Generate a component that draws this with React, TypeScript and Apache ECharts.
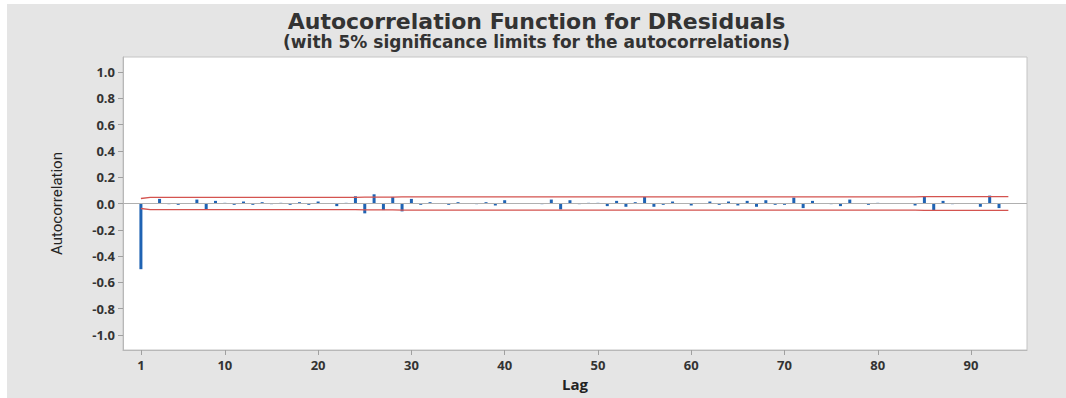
import React, { useEffect, useRef } from "react";
import * as echarts from "echarts";

const titleText = "Autocorrelation Function for DResiduals";
const subtitleText = "(with 5% significance limits for the autocorrelations)";

const lags = [
  1, 2, 3, 4, 5, 6, 7, 8, 9, 10, 11, 12, 13, 14, 15, 16, 17, 18, 19, 20,
  21, 22, 23, 24, 25, 26, 27, 28, 29, 30, 31, 32, 33, 34, 35, 36, 37, 38, 39, 40,
  41, 42, 43, 44, 45, 46, 47, 48, 49, 50, 51, 52, 53, 54, 55, 56, 57, 58, 59, 60,
  61, 62, 63, 64, 65, 66, 67, 68, 69, 70, 71, 72, 73, 74, 75, 76, 77, 78, 79, 80,
  81, 82, 83, 84, 85, 86, 87, 88, 89, 90, 91, 92, 93,
];

const acf = [
  -0.5, 0.0, 0.035, -0.005, -0.01, 0.0, 0.03, -0.045, 0.02, 0.005,
  -0.01, 0.015, -0.01, 0.01, -0.005, 0.005, -0.01, 0.01, -0.01, 0.015,
  0.0, -0.02, 0.005, 0.055, -0.075, 0.07, -0.05, 0.05, -0.06, 0.035,
  -0.01, 0.01, 0.003, -0.01, 0.01, 0.0, -0.005, 0.01, -0.015, 0.025,
  0.0, 0.002, 0.0, -0.005, 0.03, -0.045, 0.025, -0.005, 0.005, 0.005,
  -0.02, 0.02, -0.025, 0.01, 0.05, -0.025, -0.01, 0.015, 0.004, -0.015,
  0.004, 0.015, -0.01, 0.015, -0.015, 0.02, -0.025, 0.025, -0.01, -0.01,
  0.045, -0.035, 0.02, 0.0, -0.005, -0.02, 0.03, 0.004, -0.01, 0.005,
  0.0, 0.002, 0.0, -0.015, 0.055, -0.05, 0.02, -0.005, 0.0, 0.0,
  -0.025, 0.06, -0.035,
];

const limitLags = [
  1, 2, 3, 4, 5, 6, 7, 8, 9, 10, 11, 12, 13, 14, 15, 16, 17, 18, 19, 20,
  21, 22, 23, 24, 25, 26, 27, 28, 29, 30, 31, 32, 33, 34, 35, 36, 37, 38, 39, 40,
  41, 42, 43, 44, 45, 46, 47, 48, 49, 50, 51, 52, 53, 54, 55, 56, 57, 58, 59, 60,
  61, 62, 63, 64, 65, 66, 67, 68, 69, 70, 71, 72, 73, 74, 75, 76, 77, 78, 79, 80,
  81, 82, 83, 84, 85, 86, 87, 88, 89, 90, 91, 92, 93, 94,
];

const upperLimit = [
  0.038, 0.047, 0.047, 0.047, 0.047, 0.047, 0.047, 0.047, 0.047, 0.047,
  0.047, 0.047, 0.047, 0.047, 0.047, 0.047, 0.047, 0.047, 0.047, 0.047,
  0.047, 0.047, 0.047, 0.047, 0.048, 0.048, 0.049, 0.049, 0.05, 0.05,
  0.05, 0.05, 0.05, 0.05, 0.05, 0.05, 0.05, 0.05, 0.05, 0.05,
  0.05, 0.05, 0.05, 0.05, 0.05, 0.05, 0.05, 0.05, 0.05, 0.05,
  0.05, 0.05, 0.05, 0.05, 0.051, 0.051, 0.051, 0.051, 0.051, 0.051,
  0.051, 0.051, 0.051, 0.051, 0.051, 0.051, 0.051, 0.051, 0.051, 0.051,
  0.051, 0.051, 0.051, 0.051, 0.051, 0.051, 0.051, 0.051, 0.051, 0.051,
  0.051, 0.051, 0.051, 0.051, 0.052, 0.052, 0.052, 0.052, 0.052, 0.052,
  0.052, 0.052, 0.052, 0.052,
];

const lowerLimit = [
  -0.038, -0.047, -0.047, -0.047, -0.047, -0.047, -0.047, -0.047, -0.047, -0.047,
  -0.047, -0.047, -0.047, -0.047, -0.047, -0.047, -0.047, -0.047, -0.047, -0.047,
  -0.047, -0.047, -0.047, -0.047, -0.048, -0.048, -0.049, -0.049, -0.05, -0.05,
  -0.05, -0.05, -0.05, -0.05, -0.05, -0.05, -0.05, -0.05, -0.05, -0.05,
  -0.05, -0.05, -0.05, -0.05, -0.05, -0.05, -0.05, -0.05, -0.05, -0.05,
  -0.05, -0.05, -0.05, -0.05, -0.051, -0.051, -0.051, -0.051, -0.051, -0.051,
  -0.051, -0.051, -0.051, -0.051, -0.051, -0.051, -0.051, -0.051, -0.051, -0.051,
  -0.051, -0.051, -0.051, -0.051, -0.051, -0.051, -0.051, -0.051, -0.051, -0.051,
  -0.051, -0.051, -0.051, -0.051, -0.052, -0.052, -0.052, -0.052, -0.052, -0.052,
  -0.052, -0.052, -0.052, -0.052,
];

const xTicks = [1, 10, 20, 30, 40, 50, 60, 70, 80, 90];
const yTicks = [-1.0, -0.8, -0.6, -0.4, -0.2, 0.0, 0.2, 0.4, 0.6, 0.8, 1.0];

const FONT = "'Open Sans', 'Noto Sans', sans-serif";
const WIDE = "'DejaVu Sans', 'Open Sans', sans-serif";

export default function App() {
  const ref = useRef<HTMLDivElement>(null);

  useEffect(() => {
    if (!ref.current) return;
    const chart = echarts.init(ref.current, undefined, { renderer: "svg" });
    const labelStyle = {
      color: "#333",
      fontWeight: "bold" as const,
      fontSize: 13,
      fontFamily: FONT,
    };
    chart.setOption({
      animation: false,
      backgroundColor: "#e5e5e5",
      title: {
        text: titleText,
        subtext: subtitleText,
        left: "center",
        top: 1,
        itemGap: 1,
        textStyle: {
          fontFamily: WIDE,
          fontSize: 22,
          fontWeight: "bold",
          color: "#333",
        },
        subtextStyle: {
          fontFamily: WIDE,
          fontSize: 17,
          fontWeight: "bold",
          color: "#333",
        },
      },
      grid: {
        left: 116,
        right: 39,
        top: 53,
        bottom: 48,
        show: true,
        backgroundColor: "#ffffff",
        borderColor: "#c4c4c4",
        borderWidth: 1,
      },
      xAxis: {
        type: "value",
        min: -0.92,
        max: 96,
        name: "Lag",
        nameLocation: "middle",
        nameGap: 26,
        nameTextStyle: {
          fontFamily: FONT,
          fontWeight: "bold",
          fontSize: 15,
          color: "#222",
        },
        axisLine: { show: true, onZero: false, lineStyle: { color: "#b8b8b8" } },
        axisTick: {
          show: true,
          customValues: xTicks,
          length: 5,
          lineStyle: { color: "#a0a0a0" },
        },
        axisLabel: { ...labelStyle, customValues: xTicks, margin: 8 },
        splitLine: { show: false },
      },
      yAxis: {
        type: "value",
        min: -1.115,
        max: 1.115,
        name: "Autocorrelation",
        nameLocation: "middle",
        nameGap: 59,
        nameTextStyle: {
          fontFamily: "Roboto, sans-serif",
          fontSize: 15,
          color: "#222",
        },
        axisLine: { show: true, onZero: false, lineStyle: { color: "#b8b8b8" } },
        axisTick: {
          show: true,
          customValues: yTicks,
          length: 5,
          lineStyle: { color: "#a0a0a0" },
        },
        axisLabel: {
          ...labelStyle,
          customValues: yTicks,
          margin: 8,
          formatter: (v: number) => v.toFixed(1),
        },
        splitLine: { show: false },
      },
      series: [
        {
          type: "bar",
          data: lags.map((l, i) => [l, acf[i]]),
          barWidth: 3,
          itemStyle: { color: "#1f63b3" },
          markLine: {
            silent: true,
            symbol: "none",
            label: { show: false },
            lineStyle: { color: "#b0b0b0", width: 1, type: "solid" },
            data: [{ yAxis: 0 }],
          },
          z: 3,
        },
        {
          type: "line",
          data: limitLags.map((l, i) => [l, upperLimit[i]]),
          symbol: "none",
          lineStyle: { color: "#d4534f", width: 1.3 },
          z: 4,
        },
        {
          type: "line",
          data: limitLags.map((l, i) => [l, lowerLimit[i]]),
          symbol: "none",
          lineStyle: { color: "#d4534f", width: 1.3 },
          z: 4,
        },
      ],
    });
    return () => chart.dispose();
  }, []);

  return (
    <div
      style={{
        position: "absolute",
        left: 0,
        top: 0,
        width: 1066,
        height: 398,
        background: "#ffffff",
      }}
    >
      <div
        ref={ref}
        style={{ position: "absolute", left: 7, top: 4, width: 1059, height: 394 }}
      />
    </div>
  );
}
